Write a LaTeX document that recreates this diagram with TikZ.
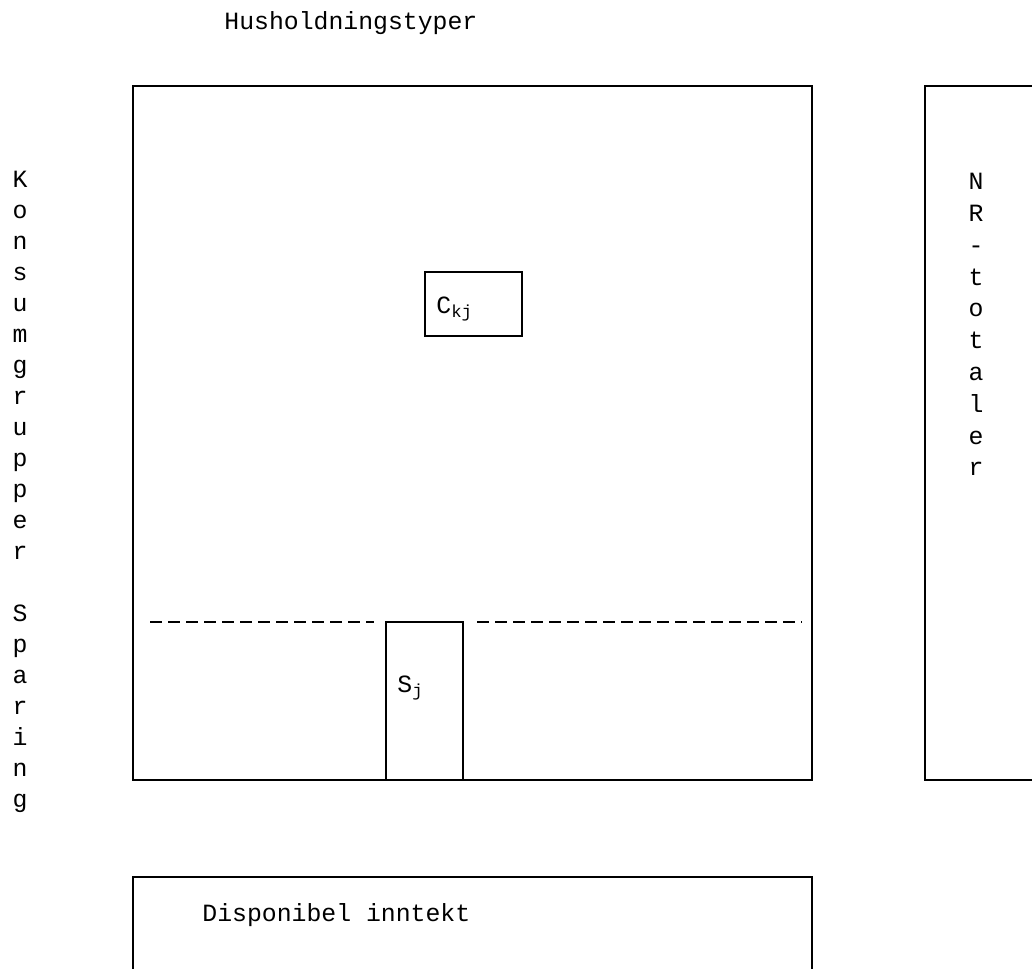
\documentclass[tikz,border=0pt]{standalone}
\usepackage{fontspec}
\setmainfont{Liberation Mono}
\setmonofont{Liberation Mono}
\tikzset{
    frame/.style={draw, line width=1.2pt},
    cut/.style={line width=1.2pt, dash pattern=on 6pt off 3pt},
    typed/.style={inner sep=0pt, font=\fontsize{12.4}{15.5}\selectfont},
    column/.style={typed, align=center, anchor=north}
}
\begin{document}
\begin{tikzpicture}[x=0.5pt, y=-0.5pt]
        \useasboundingbox (0,0) rectangle (1032,968);
        \clip (0,0) rectangle (1032,968);
        % Heading over the matrix
            \node[typed, anchor=base west] (hustyp) at (224,30) {Husholdningstyper};
        % Row labels down the left side
            \node[column] (konsum) at (20,171) {K\\o\\n\\s\\u\\m\\g\\r\\u\\p\\p\\e\\r\\[15.5pt]S\\p\\a\\r\\i\\n\\g};
        % Main matrix with consumption cell and saving column
            \draw[frame] (133,86) rectangle (812,780);
            \draw[frame] (425,272) rectangle (522,336);
            \node[typed, anchor=base west] (ckj) at (436,313) {C\textsubscript{kj}};
            \draw[frame] (386,622) rectangle (463,780);
            \node[typed, anchor=base west] (sj) at (397,692) {S\textsubscript{j}};
            \draw[cut] (150,622) -- (374,622);
            \draw[cut] (477,622) -- (802,622);
        % National accounts totals, cut at the right edge
            \draw[frame] (1045,86) -- (925,86) -- (925,780) -- (1045,780);
            \node[column, font=\fontsize{12.4}{15.9}\selectfont] (nrtot) at (976,173) {N\\R\\-\\t\\o\\t\\a\\l\\e\\r};
        % Disposable income row, cut at the bottom
            \draw[frame] (133,985) -- (133,877) -- (812,877) -- (812,985);
            \node[typed, anchor=base west] (dispinn) at (202,921) {Disponibel inntekt};
\end{tikzpicture}
\end{document}
